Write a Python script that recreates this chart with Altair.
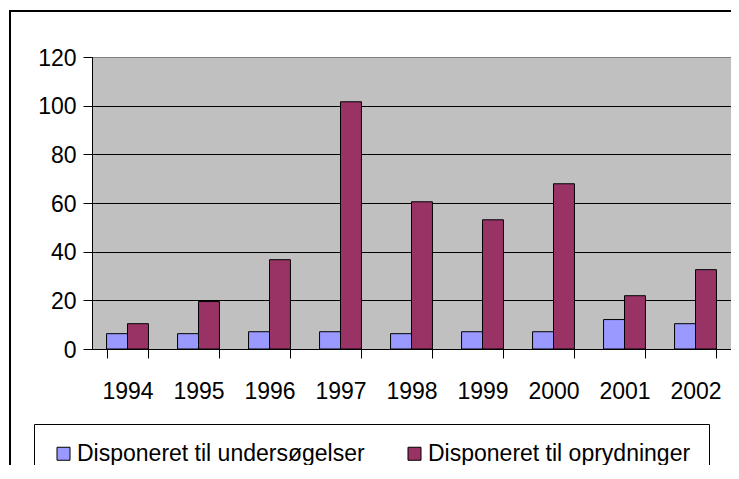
import altair as alt
import pandas as pd

years = ["1994", "1995", "1996", "1997", "1998", "1999", "2000", "2001", "2002"]
undersoegelser = [6.3, 6.3, 7.1, 7.1, 6.3, 7.1, 7.1, 12.1, 10.4]
oprydninger = [10.4, 19.5, 36.7, 101.6, 60.5, 53.1, 67.9, 21.9, 32.6]
series = ["Disponeret til undersøgelser", "Disponeret til oprydninger"]
colors = ["#9999FF", "#993366"]
y_ticks = [0, 20, 40, 60, 80, 100, 120]

rows = []
for i, yr in enumerate(years):
    rows.append({"year": yr, "serie": series[0], "value": undersoegelser[i]})
    rows.append({"year": yr, "serie": series[1], "value": oprydninger[i]})
df = pd.DataFrame(rows)

FONT = "Liberation Sans"
FS = 23

bars = alt.Chart(df).mark_bar(stroke="black", strokeWidth=1).encode(
    x=alt.X("year:N", sort=years,
            scale=alt.Scale(paddingInner=0.41, paddingOuter=0.205),
            axis=alt.Axis(title=None, labelAngle=0, tickBand="extent", tickSize=9,
                          tickColor="black", domainColor="black", labelPadding=22,
                          labelFont=FONT, labelFontSize=FS, labelColor="black", grid=False)),
    xOffset=alt.XOffset("serie:N", sort=series, scale=alt.Scale(paddingInner=0, paddingOuter=0)),
    y=alt.Y("value:Q", scale=alt.Scale(domain=[0, 120], nice=False),
            axis=alt.Axis(title=None, values=y_ticks, tickSize=9, tickColor="black",
                          domainColor="black", labelPadding=7, labelFont=FONT,
                          labelFontSize=FS, labelColor="black", grid=True, labelOffset=1,
                          gridColor={"condition": {"test": "datum.value === 120", "value": "#808080"},
                                     "value": "black"})),
    fill=alt.Fill("serie:N", sort=series,
                  scale=alt.Scale(domain=series, range=colors),
                  legend=alt.Legend(title=None, orient="none", legendX=-58, legendY=367,
                                    direction="horizontal", strokeColor="black", padding=18,
                                    columnPadding=38, labelOffset=2, labelLimit=600,
                                    labelFont=FONT, labelFontSize=FS, labelColor="black",
                                    symbolType="square", symbolSize=169,
                                    symbolStrokeColor="black", symbolStrokeWidth=1)),
)

border = alt.Chart(alt.Data(values=[{}])).mark_rect(
    fill=None, stroke="black", strokeWidth=2
).encode(x=alt.value(-82), x2=alt.value(700), y=alt.value(-46), y2=alt.value(500))

chart = alt.layer(border, bars).properties(
    width=639, height=292,
    autosize=alt.AutoSizeParams(type="none"),
    padding={"left": 84, "top": 49, "right": 0, "bottom": 116},
    background="white",
).configure_view(fill="#C0C0C0", stroke="#808080", strokeWidth=1)

chart.save("out.html", embed_options={"renderer": "svg", "actions": False})
